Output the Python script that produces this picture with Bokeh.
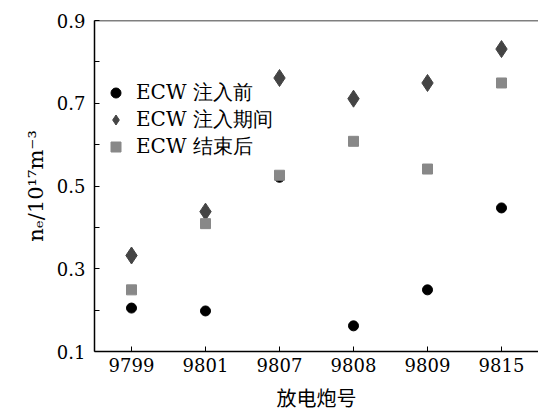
from bokeh.plotting import figure
from bokeh.models import FixedTicker, Span, Legend, LegendItem
from bokeh.embed import file_html
from bokeh.resources import INLINE

shots = ["9799", "9801", "9807", "9808", "9809", "9815"]
before = [0.205, 0.198, 0.521, 0.162, 0.249, 0.447]
during = [0.332, 0.438, 0.761, 0.711, 0.749, 0.831]
after = [0.249, 0.409, 0.526, 0.608, 0.541, 0.749]
series_names = ["ECW 注入前", "ECW 注入期间", "ECW 结束后"]
y_major = [0.1, 0.3, 0.5, 0.7, 0.9]
y_minor = [0.2, 0.4, 0.6, 0.8]

SERIF = "DejaVu Serif"

p = figure(width=538, height=414, x_range=shots, y_range=(0.1, 0.9),
           output_backend="svg", toolbar_location=None,
           min_border_left=94, min_border_right=0, min_border_top=20, min_border_bottom=60)
p.outline_line_color = None
p.xgrid.visible = False
p.ygrid.visible = False
p.background_fill_color = "white"
p.border_fill_color = "white"

r1 = p.scatter(shots, before, marker="circle", size=10, color="black")
r2 = p.scatter(shots, during, marker="diamond", size=17, color="#444444")
r3 = p.scatter(shots, after, marker="square", size=10, color="#888888")

p.add_layout(Span(location=y_major[-1], dimension="width", line_color="black", line_width=1.5))

for ax in (p.xaxis[0], p.yaxis[0]):
    ax.axis_line_color = "black"
    ax.axis_line_width = 1.5
    ax.major_tick_in = 5
    ax.major_tick_out = 0
    ax.major_tick_line_width = 1
    ax.minor_tick_in = 5
    ax.minor_tick_out = 0
    ax.major_label_text_font = SERIF
    ax.major_label_text_font_size = "18px"
    ax.major_label_text_color = "black"
    ax.axis_label_text_font_style = "normal"
    ax.axis_label_text_color = "black"
    ax.axis_label_text_font_size = "20px"

p.yaxis.ticker = FixedTicker(ticks=y_major, minor_ticks=y_minor)
p.yaxis.major_label_standoff = 9
p.xaxis.major_label_standoff = 6
p.xaxis.axis_label = "放电炮号"
p.xaxis.axis_label_text_font = "Noto Sans CJK SC"
p.xaxis.axis_label_standoff = 8
p.yaxis.axis_label = "nₑ/10¹⁷m⁻³"
p.yaxis.axis_label_text_font = SERIF
p.yaxis.axis_label_text_font_size = "21px"
p.yaxis.axis_label_standoff = 6

legend = Legend(items=[LegendItem(label=series_names[0], renderers=[r1]),
                       LegendItem(label=series_names[1], renderers=[r2]),
                       LegendItem(label=series_names[2], renderers=[r3])],
                location=(9, 191), border_line_color=None, background_fill_alpha=0,
                label_text_font=SERIF, label_text_font_size="20px", label_text_color="black",
                glyph_width=25, glyph_height=25, label_height=26, spacing=0, padding=4, label_standoff=8)
p.add_layout(legend)

open("out.html", "w").write(file_html(p, INLINE))
